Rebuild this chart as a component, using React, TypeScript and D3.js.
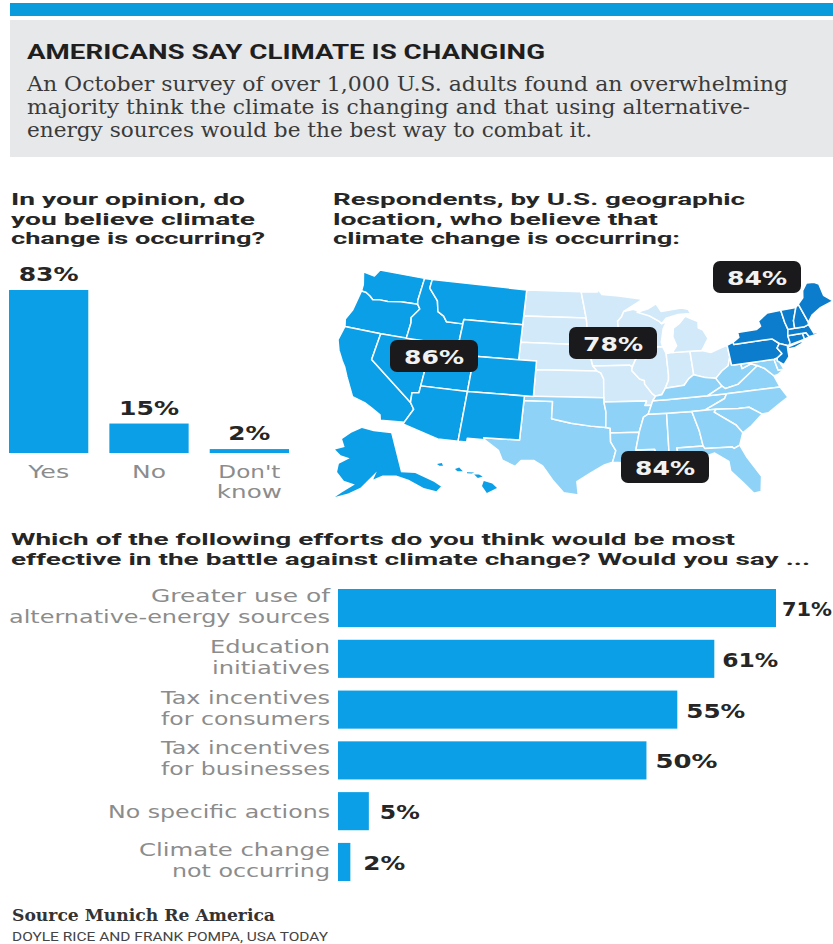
import React, { useEffect, useRef } from "react";
import * as d3 from "d3";

// bar data
const beliefCategories = ["Yes", "No", "Don't know"];
const beliefValues = [83, 15, 2];

const effortCategories = [
  "Greater use of alternative-energy sources",
  "Education initiatives",
  "Tax incentives for consumers",
  "Tax incentives for businesses",
  "No specific actions",
  "Climate change not occurring",
];
const effortValues = [71, 61, 55, 50, 5, 2];

const regionNames = ["West", "Midwest", "Northeast", "South"];
const regionValues = [86, 78, 84, 84];

// state outlines, [lon, lat]
type Ring = number[][];
const WA: Ring = [[-124.7,48.4],[-123.2,48.2],[-122.8,49],[-117.03,49],[-117.04,46.4],[-116.92,45.99],[-119,45.93],[-120.5,45.7],[-121.5,45.7],[-122.3,45.55],[-122.8,45.9],[-123.4,46.2],[-124,46.25],[-124.1,47]];
const OR: Ring = [[-124,46.25],[-123.4,46.2],[-122.8,45.9],[-122.3,45.55],[-121.5,45.7],[-120.5,45.7],[-119,45.93],[-116.92,45.99],[-116.5,45.5],[-117.2,44.4],[-117.03,43.8],[-117.03,42],[-120,42],[-124.2,42],[-124.5,42.8],[-124.1,44]];
const CA: Ring = [[-124.2,42],[-120,42],[-120,39],[-114.63,35],[-114.13,34.3],[-114.72,32.72],[-117.12,32.53],[-117.3,33.1],[-118.4,33.75],[-119.2,34.15],[-120.6,34.55],[-121.9,36.6],[-122.5,37.6],[-123,38.2],[-123.8,39.3],[-124.35,40.4]];
const NV: Ring = [[-120,42],[-114.04,42],[-114.04,36.2],[-114.75,36.1],[-114.63,35],[-120,39]];
const ID: Ring = [[-117.03,49],[-116.05,49],[-116.05,48],[-114.7,46.7],[-114.3,45.5],[-113.5,45.1],[-113,44.5],[-111.05,44.5],[-111.05,42],[-117.03,42],[-117.03,43.8],[-117.2,44.4],[-116.5,45.5],[-116.92,45.99],[-117.04,46.4]];
const MT: Ring = [[-116.05,49],[-104.05,49],[-104.05,45],[-111.05,45],[-111.05,44.5],[-113,44.5],[-113.5,45.1],[-114.3,45.5],[-114.7,46.7],[-116.05,48]];
const WY: Ring = [[-111.05,45],[-104.05,45],[-104.05,41],[-111.05,41]];
const UT: Ring = [[-114.04,42],[-111.05,42],[-111.05,41],[-109.05,41],[-109.05,37],[-114.04,37]];
const CO: Ring = [[-109.05,41],[-102.05,41],[-102.05,37],[-109.05,37]];
const AZ: Ring = [[-114.75,36.1],[-114.04,36.2],[-114.04,37],[-109.05,37],[-109.05,31.33],[-111.07,31.33],[-114.81,32.5],[-114.72,32.72],[-114.13,34.3],[-114.63,35]];
const NM: Ring = [[-109.05,37],[-103,37],[-103.05,32],[-106.6,32],[-106.5,31.78],[-108.2,31.78],[-108.2,31.33],[-109.05,31.33]];

const ND: Ring = [[-104.05,49],[-97.2,49],[-96.55,46],[-104.05,46]];
const SD: Ring = [[-104.05,46],[-96.55,46],[-96.45,45.3],[-96.45,43.5],[-96.5,42.5],[-97.9,42.8],[-98.5,43],[-104.05,43]];
const NE: Ring = [[-104.05,43],[-98.5,43],[-97.9,42.8],[-96.5,42.5],[-96,41.5],[-95.77,40.58],[-95.3,40],[-102.05,40],[-102.05,41],[-104.05,41]];
const KS: Ring = [[-102.05,40],[-95.3,40],[-94.9,39.8],[-94.6,39.1],[-94.62,37],[-102.05,37]];
const MN: Ring = [[-97.2,49],[-95.15,49],[-95.15,49.35],[-94.6,48.7],[-92.5,48.5],[-89.6,48],[-92,46.7],[-92.3,46.1],[-92.8,45.6],[-92.75,44.75],[-91.2,43.5],[-96.45,43.5],[-96.45,45.3],[-96.55,46]];
const IA: Ring = [[-96.45,43.5],[-91.2,43.5],[-91.1,42.7],[-90.2,41.8],[-91,41.2],[-91.4,40.4],[-91.7,40.6],[-95.77,40.58],[-96,41.5],[-96.5,42.5]];
const MO: Ring = [[-95.77,40.58],[-91.7,40.6],[-91.4,40.4],[-91.5,40],[-90.7,39],[-90.2,38.8],[-90.2,38.4],[-89.5,37.3],[-89.15,37],[-89.5,36.5],[-89.7,36],[-90.37,36],[-90.15,36.5],[-94.62,36.5],[-94.62,37],[-94.6,39.1],[-94.9,39.8],[-95.3,40]];
const WI: Ring = [[-92,46.7],[-90.8,46.9],[-89,46.1],[-87.8,45.35],[-87.6,45.1],[-87,45.3],[-87.5,44.5],[-87.9,43],[-87.8,42.5],[-90.65,42.5],[-91.1,42.7],[-91.2,43.5],[-92.75,44.75],[-92.8,45.6],[-92.3,46.1]];
const IL: Ring = [[-90.65,42.5],[-87.8,42.5],[-87.5,41.7],[-87.53,39.3],[-87.6,38.7],[-88.05,37.8],[-88.5,37.1],[-89.15,37],[-89.5,37.3],[-90.2,38.4],[-90.2,38.8],[-90.7,39],[-91.5,40],[-91.4,40.4],[-91,41.2],[-90.2,41.8],[-91.1,42.7]];
const IN: Ring = [[-87.5,41.7],[-86.8,41.76],[-84.8,41.76],[-84.8,39.1],[-85.4,38.7],[-86,38],[-87,37.9],[-88.05,37.8],[-87.6,38.7],[-87.53,39.3]];
const OH: Ring = [[-84.8,41.76],[-83.45,41.73],[-82.5,41.4],[-81.2,41.8],[-80.52,42],[-80.52,40.64],[-80.9,39.7],[-81.7,39.2],[-82.5,38.45],[-83.6,38.65],[-84.8,39.1]];
const MI: Ring = [[-86.8,41.76],[-84.8,41.76],[-83.45,41.73],[-83.1,42.2],[-82.5,43],[-82.9,44],[-83.4,44.3],[-83.3,45],[-84.7,45.75],[-85.5,45],[-86.3,44.5],[-86.5,43.5],[-86.2,42.5]];
const MIupper: Ring = [[-90.4,46.55],[-89,46.9],[-88,47.4],[-87.5,46.5],[-85,46.7],[-84.2,46.5],[-84,46],[-85.5,46],[-87,45.7],[-87.6,45.1],[-87.8,45.35],[-89,46.1]];

const TX: Ring = [[-106.6,32],[-103.05,32],[-103,36.5],[-100,36.5],[-100,34.56],[-98,34.1],[-96,33.8],[-94.48,33.64],[-94.04,33.55],[-94.04,32],[-93.55,31],[-93.9,29.7],[-94.7,29.4],[-96,28.5],[-97.3,27.5],[-97.15,25.96],[-98.5,26.2],[-99.5,27.5],[-100.6,29.2],[-101.5,29.77],[-102.7,29.7],[-103.2,29],[-104.5,29.6],[-105,30.7],[-106.5,31.78]];
const OK: Ring = [[-103,37],[-94.62,37],[-94.62,36.5],[-94.43,35.4],[-94.48,33.64],[-96,33.8],[-98,34.1],[-100,34.56],[-100,36.5],[-103,36.5]];
const AR: Ring = [[-94.62,36.5],[-90.15,36.5],[-90.37,36],[-89.7,36],[-90.1,35],[-90.6,34.7],[-91.15,33],[-94.04,33],[-94.04,33.55],[-94.48,33.64],[-94.43,35.4]];
const LA: Ring = [[-94.04,33],[-91.15,33],[-91.6,31],[-89.75,31],[-89.6,30.2],[-89.2,29.3],[-90.5,29.1],[-91.8,29.5],[-93.9,29.7],[-93.55,31],[-94.04,32]];
const MS: Ring = [[-90.1,35],[-88.2,35],[-88.4,30.3],[-89.6,30.2],[-89.75,31],[-91.6,31],[-91.15,33],[-90.6,34.7]];
const AL: Ring = [[-88.2,35],[-85.6,35],[-85.15,32.8],[-85,31],[-87.6,31],[-87.5,30.3],[-88.4,30.3]];
const TN: Ring = [[-90.1,35],[-89.7,36],[-89.5,36.5],[-88.05,36.5],[-83.7,36.6],[-81.7,36.6],[-82,36.1],[-84.3,35],[-85.6,35],[-88.2,35]];
const KY: Ring = [[-89.5,36.5],[-89.15,37],[-88.5,37.1],[-88.05,37.8],[-87,37.9],[-86,38],[-85.4,38.7],[-84.8,39.1],[-83.6,38.65],[-82.5,38.45],[-82,37.5],[-83.7,36.6],[-88.05,36.5]];
const WV: Ring = [[-82.5,38.45],[-81.7,39.2],[-80.9,39.7],[-80.52,40.64],[-80.52,39.72],[-79.48,39.72],[-79.48,39.2],[-78.4,39.6],[-77.75,39.3],[-78.9,38.5],[-80.3,37.5],[-81.7,37.2],[-82,37.5]];
const VA: Ring = [[-83.7,36.6],[-82,37.5],[-81.7,37.2],[-80.3,37.5],[-78.9,38.5],[-77.75,39.3],[-77.05,38.85],[-76.3,37.9],[-76,36.55],[-81.7,36.6]];
const NC: Ring = [[-84.3,35],[-82,36.1],[-81.7,36.6],[-76,36.55],[-75.5,35.3],[-76.6,34.7],[-77.9,33.9],[-78.55,33.85],[-79.7,34.8],[-80.8,34.8],[-83.1,35]];
const SC: Ring = [[-83.1,35],[-80.8,34.8],[-79.7,34.8],[-78.55,33.85],[-79.9,32.7],[-80.9,32.05],[-81.4,33],[-83.35,34.7]];
const GA: Ring = [[-85.6,35],[-84.3,35],[-83.1,35],[-83.35,34.7],[-81.4,33],[-80.9,32.05],[-81.45,30.7],[-82.05,30.4],[-82.2,30.57],[-84.87,30.7],[-85,31],[-85.15,32.8]];
const FL: Ring = [[-87.6,31],[-85,31],[-84.87,30.7],[-82.2,30.57],[-82.05,30.4],[-81.45,30.7],[-81,29.2],[-80.05,26.9],[-80.4,25.2],[-81.1,25.1],[-81.9,26.5],[-82.8,27.9],[-82.8,29],[-84,30.1],[-85.3,29.7],[-86.5,30.4],[-87.5,30.3]];
const MD: Ring = [[-79.48,39.72],[-75.79,39.72],[-75.7,38.46],[-75.05,38.45],[-75.9,37.95],[-76.3,37.9],[-77.05,38.85],[-77.75,39.3],[-78.4,39.6],[-79.48,39.2]];
const DE: Ring = [[-75.79,39.72],[-75.4,39.8],[-75.05,38.45],[-75.7,38.46]];

const PA: Ring = [[-80.52,42],[-79.76,42.27],[-79.76,42],[-75.35,42],[-74.7,41.36],[-75.1,40.9],[-74.75,40.2],[-75.4,39.8],[-75.79,39.72],[-80.52,39.72]];
const NY: Ring = [[-79.76,42.27],[-79,42.7],[-79,43.27],[-76.8,43.3],[-76.2,43.6],[-76.3,44.2],[-75,44.95],[-73.35,45],[-73.35,43.6],[-73.25,42.75],[-73.5,42.05],[-73.5,41.3],[-73.65,41],[-73.9,41],[-74.7,41.36],[-75.35,42],[-79.76,42]];
const LongIsland: Ring = [[-74,40.6],[-73.75,40.85],[-72.3,41.15],[-71.9,41.05],[-73.2,40.6]];
const NJ: Ring = [[-74.7,41.36],[-73.9,41],[-74,40.45],[-74.1,39.75],[-74.9,38.95],[-75.5,39.5],[-75.4,39.8],[-74.75,40.2],[-75.1,40.9]];
const CT: Ring = [[-73.5,42.05],[-71.8,42.02],[-71.8,41.33],[-73.65,41],[-73.5,41.3]];
const RI: Ring = [[-71.8,42.02],[-71.38,42.02],[-71.2,41.5],[-71.8,41.33]];
const MA: Ring = [[-73.25,42.75],[-71.3,42.7],[-70.8,42.85],[-70.65,42.3],[-70.55,41.8],[-70,41.8],[-70,41.65],[-71.2,41.5],[-71.38,42.02],[-71.8,42.02],[-73.5,42.05]];
const VT: Ring = [[-73.35,45],[-71.5,45],[-72.3,43.6],[-72.46,42.73],[-73.25,42.75],[-73.35,43.6]];
const NH: Ring = [[-71.5,45],[-71.1,45.3],[-70.7,43.1],[-70.8,42.85],[-71.3,42.7],[-72.46,42.73],[-72.3,43.6]];
const ME: Ring = [[-71.1,45.3],[-70.3,45.9],[-70,46.7],[-69.2,47.45],[-68.3,47.35],[-67.8,47.05],[-67.8,45.7],[-67,44.85],[-68.8,44.4],[-70,43.8],[-70.7,43.1]];

const AK: Ring = [[-168,65.6],[-164,66.5],[-166,68.3],[-162,70],[-156.5,71.3],[-150,70.5],[-141,69.6],[-141,60.3],[-136,59.5],[-131,56.5],[-129.5,55],[-131.5,54.3],[-135,55.7],[-139,58.3],[-143,59.7],[-148,60],[-151.5,59.2],[-150,61],[-153.5,59],[-156,57.3],[-160,55.8],[-164,54.7],[-162,56],[-158,58],[-162,58.7],[-165,60.5],[-165,62.5],[-161,64],[-165,64.5]];
const HIislands: Ring[] = [
  [[-159.8,22.1],[-159.4,22.2],[-159.3,21.9],[-159.6,21.9]],
  [[-158.3,21.55],[-157.95,21.7],[-157.65,21.3],[-158.1,21.3]],
  [[-157.3,21.2],[-156.7,21.17],[-156.9,21.05],[-157.3,21.08]],
  [[-156.7,20.95],[-156.3,20.95],[-156,20.75],[-156.4,20.58]],
  [[-155.9,20.25],[-155.2,19.98],[-154.8,19.5],[-155.65,18.95],[-156.05,19.7]],
];

const westShapes = [WA, OR, CA, NV, ID, MT, WY, UT, CO, AZ, NM];
const midwestShapes = [ND, SD, NE, KS, MN, IA, MO, WI, IL, IN, OH, MI, MIupper];
const southShapes = [TX, OK, AR, LA, MS, AL, TN, KY, WV, VA, NC, SC, GA, FL, MD, DE];
const northeastShapes = [PA, NY, LongIsland, NJ, CT, RI, MA, VT, NH, ME];

const BLUE = "#0a9fe6";
const DARK_BLUE = "#0b7dcc";
const MID_BLUE = "#8fd2f7";
const PALE_BLUE = "#d2e9f9";
const DARK = "#262626";
const GRAY = "#8c8c8c";
const ROBOTO = "Roboto, sans-serif";
const WIDE = "'DejaVu Sans', sans-serif";
const SERIF = "'DejaVu Serif', serif";

function App() {
  const ref = useRef<SVGSVGElement>(null);

  useEffect(() => {
    drawChart();
  }, []);

  const drawChart = () => {
    const svg = d3.select(ref.current);
    svg.selectAll("*").remove();

    // plain text helper, len stretches the line to the width it has in the picture
    const label = (x, y, str, size, family, weight, fill, anchor = "start", len = 0) => {
      const t = svg
        .append("text")
        .attr("x", x)
        .attr("y", y)
        .attr("font-size", size)
        .attr("font-family", family)
        .attr("font-weight", weight)
        .attr("fill", fill)
        .attr("text-anchor", anchor)
        .text(str);
      if (len) t.attr("textLength", len).attr("lengthAdjust", "spacingAndGlyphs");
      return t;
    };

    //header
    svg.append("rect").attr("x", 10).attr("y", 3).attr("width", 823).attr("height", 13).attr("fill", "#0a9bdc");
    svg.append("rect").attr("x", 10).attr("y", 20).attr("width", 823).attr("height", 137).attr("fill", "#e7e8ea");
    label(27, 59, "AMERICANS SAY CLIMATE IS CHANGING", 21, ROBOTO, 700, "#1f1f1f", "start", 518);
    label(27, 91, "An October survey of over 1,000 U.S. adults found an overwhelming", 19.5, SERIF, 400, "#3a3a3a", "start", 761);
    label(27, 114, "majority think the climate is changing and that using alternative-", 19.5, SERIF, 400, "#3a3a3a", "start", 723);
    label(27, 137, "energy sources would be the best way to combat it.", 19.5, SERIF, 400, "#3a3a3a", "start", 565);

    //section headings
    label(11, 205, "In your opinion, do", 16.5, ROBOTO, 700, DARK, "start", 234);
    label(11, 225, "you believe climate", 16.5, ROBOTO, 700, DARK, "start", 244);
    label(11, 244, "change is occurring?", 16.5, ROBOTO, 700, DARK, "start", 254);
    label(333, 205, "Respondents, by U.S. geographic", 16.5, ROBOTO, 700, DARK, "start", 412);
    label(333, 225, "location, who believe that", 16.5, ROBOTO, 700, DARK, "start", 325);
    label(333, 244, "climate change is occurring:", 16.5, ROBOTO, 700, DARK, "start", 347);
    label(11, 545, "Which of the following efforts do you think would be most", 16.5, ROBOTO, 700, DARK, "start", 724);
    label(11, 565, "effective in the battle against climate change? Would you say ...", 16.5, ROBOTO, 700, DARK, "start", 799);

    //column chart
    const xBelief = d3.scaleBand().domain(beliefCategories).range([9, 289]).paddingInner(0.21);
    const yBelief = d3.scaleLinear().domain([0, 83]).range([453, 290]);
    svg
      .append("g")
      .selectAll("rect")
      .data(beliefValues)
      .enter()
      .append("rect")
      .attr("x", (d, i) => xBelief(beliefCategories[i]))
      .attr("y", (d) => yBelief(d))
      .attr("width", xBelief.bandwidth())
      .attr("height", (d) => yBelief(0) - yBelief(d))
      .attr("fill", BLUE);
    const beliefLines = [[["Yes", 41]], [["No", 34]], [["Don't", 62], ["know", 65]]];
    beliefValues.forEach((v, i) => {
      const cx = xBelief(beliefCategories[i]) + xBelief.bandwidth() / 2;
      label(cx, yBelief(v) - 9, `${v}%`, 20, WIDE, 700, DARK, "middle", v < 10 ? 42 : 60);
      beliefLines[i].forEach(([w, len], j) => label(cx, 478 + j * 20, w, 18, WIDE, 400, GRAY, "middle", len));
    });

    //map
    const fit = (projection, rings, xRange, yRange) => {
      const pts = rings.flat().map((p) => projection(p));
      const xs = d3.scaleLinear().domain(d3.extent(pts, (p) => p[0])).range(xRange);
      const ys = d3.scaleLinear().domain(d3.extent(pts, (p) => p[1])).range(yRange);
      return d3
        .line()
        .x((p) => xs(projection(p)[0]))
        .y((p) => ys(projection(p)[1]))
        .curve(d3.curveLinearClosed);
    };
    const lower48 = [...westShapes, ...midwestShapes, ...southShapes, ...northeastShapes];
    const mainLine = fit(d3.geoAlbers(), lower48, [338, 833], [270, 495]);
    const akLine = fit(
      d3.geoConicEqualArea().rotate([154, 0]).center([-2, 58.5]).parallels([55, 65]),
      [AK],
      [335, 441],
      [428, 497]
    );
    const hiLine = fit(d3.geoEquirectangular(), HIislands, [437, 497], [463, 493]);

    const drawStates = (rings, line, color, strokeWidth = 1.5) => {
      svg
        .append("g")
        .selectAll("path")
        .data(rings)
        .enter()
        .append("path")
        .attr("d", (d) => line(d))
        .attr("fill", color)
        .attr("stroke", strokeWidth ? "#fff" : "none")
        .attr("stroke-width", strokeWidth)
        .attr("stroke-linejoin", "round");
    };
    drawStates(midwestShapes, mainLine, PALE_BLUE);
    drawStates(southShapes, mainLine, MID_BLUE);
    drawStates(westShapes, mainLine, BLUE);
    drawStates(northeastShapes, mainLine, DARK_BLUE);
    drawStates([AK], akLine, BLUE, 0);
    drawStates(HIislands, hiLine, BLUE, 0);

    // badge boxes in the same order as regionNames
    const badgeBoxes = [
      [390, 340],
      [569, 327],
      [713, 261],
      [621, 451],
    ];
    regionNames.forEach((name, i) => {
      const [bx, by] = badgeBoxes[i];
      svg
        .append("rect")
        .attr("x", bx)
        .attr("y", by)
        .attr("width", 88)
        .attr("height", 32)
        .attr("rx", 7)
        .attr("fill", "#1a1a1c");
      label(bx + 44, by + 24, `${regionValues[i]}%`, 20, WIDE, 700, "#f2f2f2", "middle", 60);
    });

    //horizontal bars
    const xEffort = d3.scaleLinear().domain([0, 71]).range([338, 776]);
    const yEffort = d3.scaleBand().domain(effortCategories).range([589, 881]).paddingInner(0.25);
    svg
      .append("g")
      .selectAll("rect")
      .data(effortValues)
      .enter()
      .append("rect")
      .attr("x", xEffort(0))
      .attr("y", (d, i) => yEffort(effortCategories[i]))
      .attr("width", (d) => xEffort(d) - xEffort(0))
      .attr("height", yEffort.bandwidth())
      .attr("fill", BLUE);

    const effortLines = [
      [["Greater use of", 179], ["alternative-energy sources", 321]],
      [["Education", 120], ["initiatives", 118]],
      [["Tax incentives", 169], ["for consumers", 169]],
      [["Tax incentives", 169], ["for businesses", 169]],
      [["No specific actions", 222]],
      [["Climate change", 191], ["not occurring", 158]],
    ];
    const valueGaps = [6, 8, 9, 9, 11, 13];
    const valueWidths = [50, 56, 59, 62, 40, 42];
    effortValues.forEach((v, i) => {
      const cy = yEffort(effortCategories[i]) + yEffort.bandwidth() / 2;
      label(xEffort(v) + valueGaps[i], cy + 8, `${v}%`, 20, WIDE, 700, DARK, "start", valueWidths[i]);
      const lines = effortLines[i];
      lines.forEach(([l, len], j) => {
        const offset = lines.length === 1 ? 7 : j === 0 ? -6 : 15;
        label(330, cy + offset, l, 18, WIDE, 400, GRAY, "end", len);
      });
    });

    //footer
    label(12, 921, "Source Munich Re America", 16, SERIF, 700, "#333", "start", 263);
    label(12, 940.5, "DOYLE RICE AND FRANK POMPA, USA TODAY", 12.5, ROBOTO, 400, "#444", "start", 316);
  };

  return (
    <svg
      ref={ref}
      width={833}
      height={944}
      style={{ position: "absolute", top: 0, left: 0, display: "block", background: "#fff" }}
    />
  );
}

export default App;
